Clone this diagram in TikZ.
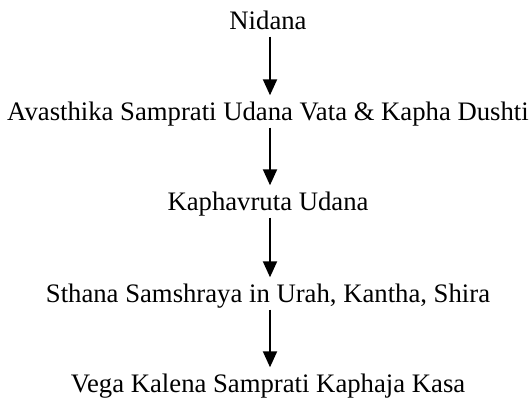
\documentclass[tikz,border=0pt]{standalone}
\usepackage{fontspec}
\setmainfont{Liberation Serif}
\usetikzlibrary{arrows.meta}
\begin{document}
\begin{tikzpicture}[x=1pt,y=1pt,
  lbl/.style={inner sep=0pt,text height=18pt,text depth=6pt,anchor=base,
    font=\fontsize{26.7pt}{30pt}\selectfont},
  flow/.style={line width=2pt,-{Triangle[length=16pt,width=14pt]},
    shorten <=1pt,shorten >=7pt}]
\useasboundingbox (0,0) rectangle (529,398);
\node[lbl] (n1) at (268,368.5) {Nidana};
\node[lbl] (n2) at (268,277.5) {Avasthika Samprati Udana Vata \& Kapha Dushti};
\node[lbl] (n3) at (268,187.5) {Kaphavruta Udana};
\node[lbl] (n4) at (268,95.5) {Sthana Samshraya in Urah, Kantha, Shira};
\node[lbl] (n5) at (268,5.5) {Vega Kalena Samprati Kaphaja Kasa};
\coordinate (ax) at (270,0);
\draw[flow] (n1.south -| ax) -- (n2.north -| ax);
\draw[flow] (n2.south -| ax) -- (n3.north -| ax);
\draw[flow] (n3.south -| ax) -- (n4.north -| ax);
\draw[flow] (n4.south -| ax) -- (n5.north -| ax);
\end{tikzpicture}
\end{document}
